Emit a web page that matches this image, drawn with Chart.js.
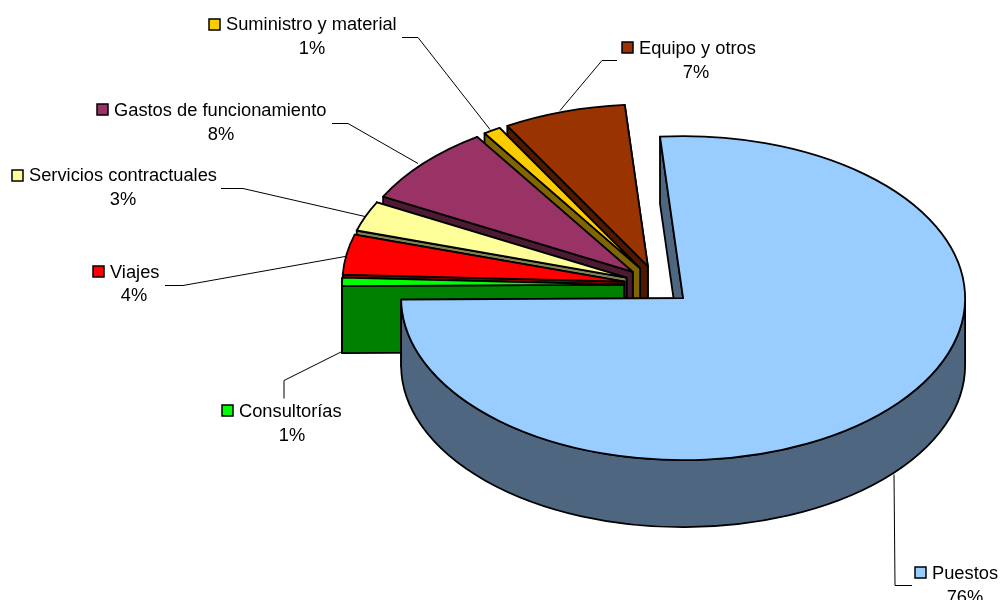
<!DOCTYPE html>
<html>
<head>
<meta charset="utf-8">
<title>Pie</title>
<script src="https://cdn.jsdelivr.net/npm/chart.js@4"></script>
<style>
  html, body { margin: 0; padding: 0; background: #fff; overflow: hidden; }
</style>
</head>
<body>
<canvas id="chartPie" width="1000" height="600"></canvas>
<script>
// values, labels show them rounded
const categories = ['Puestos', 'Consultorías', 'Viajes', 'Servicios contractuales', 'Gastos de funcionamiento', 'Suministro y material', 'Equipo y otros'];
const percents = [76.17, 0.83, 4, 3, 8, 1, 7];

const topColors = ['#99CCFF', '#00FF00', '#FF0000', '#FFFF99', '#993366', '#FFCC00', '#993300'];
const sideColors = ['#4F6680', '#008000', '#800000', '#808050', '#4D1A33', '#806600', '#4D1A00'];

// label layout: key x, key y, text x, text baseline, percent centre, percent baseline
const labelSpots = [
  [915, 567, 932, 579, 965, 603],
  [222, 405, 239, 417, 292, 441],
  [93, 266, 110, 278, 134, 301],
  [12, 170, 29, 181, 123, 205],
  [97, 104, 114, 116, 221, 140],
  [209, 19, 226, 30, 312, 54],
  [622, 42, 639, 54, 696, 78]
];
const leaders = [
  [[912, 585], [895, 585], [894, 474]],
  [[284, 398], [284, 380], [342, 351]],
  [[165, 285], [183, 285], [345, 256]],
  [[221, 188], [243, 188], [365, 216]],
  [[332, 123], [348, 123], [418, 163]],
  [[402, 37], [418, 37], [490, 129]],
  [[617, 60], [602, 60], [560, 110]]
];

// pie geometry
const centerX = 658;
const centerY = 285;
const radius = 282;
const squash = 0.5745;
const depth = 67;
const explode = 34;
const outline = 1.8;

function apexOf(arc) {
  const mid = (arc.startAngle + arc.endAngle) / 2;
  return {
    x: centerX + Math.cos(mid) * explode,
    y: centerY + Math.sin(mid) * explode * squash
  };
}

function rimOf(p, angle) {
  return { x: p.x + Math.cos(angle) * radius, y: p.y + Math.sin(angle) * radius * squash };
}

function paintPath(ctx, fill) {
  ctx.fillStyle = fill;
  ctx.fill();
  ctx.stroke();
}

function drawWall(ctx, p, angle, fill) {
  const r = rimOf(p, angle);
  ctx.beginPath();
  ctx.moveTo(p.x, p.y);
  ctx.lineTo(r.x, r.y);
  ctx.lineTo(r.x, r.y + depth);
  ctx.lineTo(p.x, p.y + depth);
  ctx.closePath();
  paintPath(ctx, fill);
}

function drawRim(ctx, p, start, end, fill) {
  // only the part of the rim that faces the viewer
  const TAU = Math.PI * 2;
  const s = ((start % TAU) + TAU) % TAU;
  const e = s + (end - start);
  const from = Math.max(s, 0);
  const to = Math.min(e, Math.PI);
  if (s < Math.PI && to > from) drawRimPart(ctx, p, from, to, fill);
  if (e > TAU) drawRimPart(ctx, p, 0, Math.min(e - TAU, Math.PI), fill);
}

function drawRimPart(ctx, p, from, to, fill) {
  const rx = radius, ry = radius * squash;
  ctx.beginPath();
  ctx.ellipse(p.x, p.y, rx, ry, 0, from, to);
  ctx.ellipse(p.x, p.y + depth, rx, ry, 0, to, from, true);
  ctx.closePath();
  paintPath(ctx, fill);
}

const pie3d = {
  id: 'pie3d',
  beforeDatasetsDraw(chart) {
    const ctx = chart.ctx;
    const arcs = chart.getDatasetMeta(0).data;
    ctx.save();
    ctx.lineWidth = outline;
    ctx.strokeStyle = '#000';
    ctx.lineJoin = 'round';
    // back to front: the last slice sits furthest back
    for (let i = arcs.length - 1; i >= 0; i--) {
      const arc = arcs[i];
      const p = apexOf(arc);
      drawWall(ctx, p, arc.endAngle, sideColors[i]);
      drawWall(ctx, p, arc.startAngle, sideColors[i]);
      drawRim(ctx, p, arc.startAngle, arc.endAngle, sideColors[i]);

      ctx.save();
      ctx.translate(p.x, p.y);
      ctx.scale(1, squash);
      ctx.translate(-arc.x, -arc.y);
      arc.draw(ctx);
      ctx.restore();

      ctx.beginPath();
      ctx.moveTo(p.x, p.y);
      ctx.ellipse(p.x, p.y, radius, radius * squash, 0, arc.startAngle, arc.endAngle);
      ctx.closePath();
      ctx.stroke();
    }
    ctx.restore();
    return false;
  },
  afterDraw(chart) {
    const ctx = chart.ctx;
    ctx.save();
    // leader lines
    ctx.strokeStyle = '#000';
    ctx.lineWidth = 1;
    leaders.forEach(pts => {
      ctx.beginPath();
      pts.forEach((pt, k) => k ? ctx.lineTo(pt[0], pt[1] + 0.5) : ctx.moveTo(pt[0], pt[1] + 0.5));
      ctx.stroke();
    });
    // labels
    ctx.font = '18.3px "Liberation Sans", Arial, sans-serif';
    ctx.textBaseline = 'alphabetic';
    categories.forEach((name, i) => {
      const s = labelSpots[i];
      ctx.fillStyle = topColors[i];
      ctx.fillRect(s[0], s[1], 11, 11);
      ctx.lineWidth = 1.5;
      ctx.strokeRect(s[0], s[1], 11, 11);
      ctx.fillStyle = '#000';
      ctx.textAlign = 'left';
      ctx.fillText(name, s[2], s[3]);
      ctx.textAlign = 'center';
      ctx.fillText(Math.round(percents[i]) + '%', s[4], s[5]);
    });
    ctx.restore();
  }
};

new Chart('chartPie', {
  type: 'pie',
  data: {
    labels: categories,
    datasets: [{
      data: percents,
      backgroundColor: topColors,
      borderWidth: 0,
      radius: radius
    }]
  },
  options: {
    responsive: false,
    animation: false,
    rotation: -4.7,
    events: [],
    plugins: {
      legend: { display: false },
      tooltip: { enabled: false }
    }
  },
  plugins: [pie3d]
});
</script>
</body>
</html>
